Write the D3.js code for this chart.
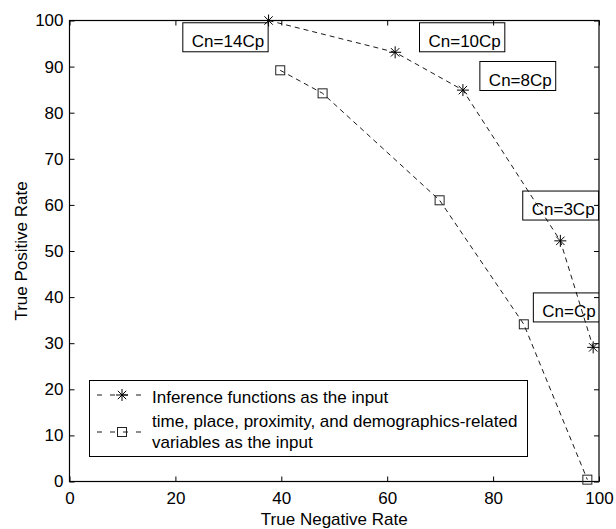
<!DOCTYPE html>
<html>
<head>
<meta charset="utf-8">
<script src="https://cdn.jsdelivr.net/npm/d3@7"></script>
<style>
  body { margin: 0; background: #fff; }
  svg { font-family: "Liberation Sans", Arial, sans-serif; }
</style>
</head>
<body>
<svg id="roc" width="616" height="529"></svg>
<script>
// values
const inferenceTNR = [37.6, 61.5, 74.3, 92.7, 98.9];
const inferenceTPR = [100, 93.1, 84.9, 52.2, 29.1];
const variablesTNR = [39.8, 47.8, 69.9, 85.8, 97.8];
const variablesTPR = [89.2, 84.2, 61.0, 34.1, 0.4];
const costLabels = ['Cn=14Cp', 'Cn=10Cp', 'Cn=8Cp', 'Cn=3Cp', 'Cn=Cp'];
const costLabelTNR = [23.1, 67.8, 79.2, 87.3, 89.3];
const costLabelTPR = [94.3, 94.3, 85.9, 57.8, 35.7];
const tickValues = [0, 10, 20, 30, 40, 50, 60, 70, 80, 90, 100];
const xTickValues = [0, 20, 40, 60, 80, 100];
const seriesNames = ['Inference functions as the input',
  'time, place, proximity, and demographics-related|variables as the input'];

const svg = d3.select('#roc');
const margin = {left: 69.5, right: 17, top: 20.5, bottom: 47.5};
const width = 616 - margin.left - margin.right;
const height = 529 - margin.top - margin.bottom;

const x = d3.scaleLinear().domain([0, 100]).range([0, width]);
const y = d3.scaleLinear().domain([0, 100]).range([height, 0]);

const g = svg.append('g')
    .attr('transform', 'translate(' + margin.left + ',' + margin.top + ')');

g.append('defs').append('clipPath').attr('id', 'plotclip')
  .append('rect').attr('width', width).attr('height', height);

// axes: ticks point inward, on all four sides
const fontSize = '17px';
function styleAxis(sel) {
  sel.select('.domain').remove();
  sel.selectAll('.tick line').attr('stroke', '#000');
  sel.selectAll('.tick text').attr('fill', '#000').style('font-size', fontSize);
}

g.append('g').attr('transform', 'translate(0,' + height + ')')
  .call(d3.axisBottom(x).tickValues(xTickValues).tickSize(-5).tickPadding(10))
  .call(styleAxis);
g.append('g')
  .call(d3.axisTop(x).tickValues(xTickValues).tickSize(-5).tickFormat(''))
  .call(styleAxis);
g.append('g')
  .call(d3.axisLeft(y).tickValues(tickValues).tickSize(-5).tickPadding(6))
  .call(styleAxis);
g.append('g').attr('transform', 'translate(' + width + ',0)')
  .call(d3.axisRight(y).tickValues(tickValues).tickSize(-5).tickFormat(''))
  .call(styleAxis);

g.append('rect')
  .attr('width', width).attr('height', height)
  .attr('fill', 'none').attr('stroke', '#000').attr('stroke-width', 1.2);

// series
const series = [
  {tnr: inferenceTNR, tpr: inferenceTPR, marker: 'star'},
  {tnr: variablesTNR, tpr: variablesTPR, marker: 'square'}
];

const line = d3.line().x(d => x(d[0])).y(d => y(d[1]));

function drawMarker(sel, type) {
  if (type === 'star') {
    const r = 6;
    const p = 'M' + -r + ',0H' + r + 'M0,' + -r + 'V' + r +
      'M' + -r * 0.7 + ',' + -r * 0.7 + 'L' + r * 0.7 + ',' + r * 0.7 +
      'M' + -r * 0.7 + ',' + r * 0.7 + 'L' + r * 0.7 + ',' + -r * 0.7;
    sel.append('path').attr('d', p).attr('stroke', '#000').attr('stroke-width', 1);
  } else {
    sel.append('rect').attr('x', -4.5).attr('y', -4.5).attr('width', 9).attr('height', 9)
      .attr('fill', 'none').attr('stroke', '#222').attr('stroke-width', 1);
  }
}

series.forEach(s => {
  const pts = s.tnr.map((v, i) => [v, s.tpr[i]]);
  g.append('path')
    .datum(pts)
    .attr('d', line)
    .attr('fill', 'none')
    .attr('stroke', '#000')
    .attr('stroke-width', 0.9)
    .attr('stroke-dasharray', '5,4');
  g.selectAll(null)
    .data(pts)
    .enter().append('g')
    .attr('transform', d => 'translate(' + x(d[0]) + ',' + y(d[1]) + ')')
    .each(function() { drawMarker(d3.select(this), s.marker); });
});

// cost ratio annotations
const notes = g.append('g').attr('clip-path', 'url(#plotclip)');
costLabels.forEach((label, i) => {
  const tx = x(costLabelTNR[i]);
  const ty = y(costLabelTPR[i]);
  const t = notes.append('text')
    .attr('x', tx).attr('y', ty)
    .style('font-size', fontSize)
    .text(label);
  const w = t.node().getComputedTextLength();
  notes.insert('rect', 'text')
    .attr('x', tx - 9).attr('y', ty - 24)
    .attr('width', w + 13).attr('height', 29)
    .attr('fill', 'none').attr('stroke', '#000').attr('stroke-width', 1);
});

// legend
const legend = svg.append('g');
legend.append('rect')
  .attr('x', 89.5).attr('y', 380.5).attr('width', 438).attr('height', 76)
  .attr('fill', '#fff').attr('stroke', '#000').attr('stroke-width', 1);

const legendRows = [{y: 395, textY: [403]}, {y: 432, textY: [427, 448]}];
series.forEach((s, i) => {
  const row = legendRows[i];
  legend.append('line')
    .attr('x1', 97).attr('x2', 147).attr('y1', row.y).attr('y2', row.y)
    .attr('stroke', '#000').attr('stroke-width', 0.9)
    .attr('stroke-dasharray', '5,8');
  const m = legend.append('g').attr('transform', 'translate(122,' + row.y + ')');
  drawMarker(m, s.marker);
  seriesNames[i].split('|').forEach((ln, j) => {
    legend.append('text')
      .attr('x', 152).attr('y', row.textY[j])
      .style('font-size', fontSize)
      .text(ln);
  });
});

// axis titles
svg.append('text')
  .attr('x', margin.left + width / 2).attr('y', 525)
  .attr('text-anchor', 'middle')
  .style('font-size', fontSize)
  .text('True Negative Rate');

svg.append('text')
  .attr('transform', 'translate(27,' + (margin.top + height / 2) + ') rotate(-90)')
  .attr('text-anchor', 'middle')
  .style('font-size', fontSize)
  .text('True Positive Rate');
</script>
</body>
</html>
